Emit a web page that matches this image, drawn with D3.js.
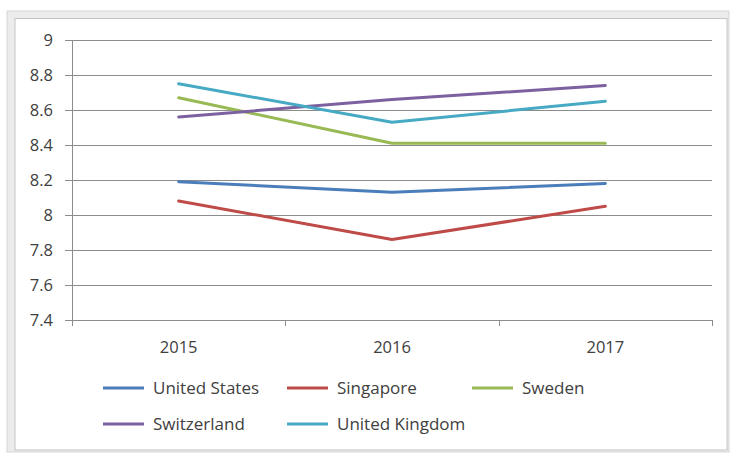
<!DOCTYPE html>
<html>
<head>
<meta charset="utf-8">
<script src="https://cdn.jsdelivr.net/npm/d3@7"></script>
<style>
  html, body { margin: 0; padding: 0; background: #fff; }
  svg text { font-family: "Open Sans", sans-serif; fill: #404040; }
</style>
</head>
<body>
<svg id="chart" width="732" height="453"></svg>
<script>
// Years on the category axis
const years = ["2015", "2016", "2017"];

// Index values per country
const unitedStates = [8.19, 8.13, 8.18];
const singapore = [8.08, 7.86, 8.05];
const sweden = [8.67, 8.41, 8.41];
const switzerland = [8.56, 8.66, 8.74];
const unitedKingdom = [8.75, 8.53, 8.65];

const seriesNames = ["United States", "Singapore", "Sweden", "Switzerland", "United Kingdom"];
const seriesValues = [unitedStates, singapore, sweden, switzerland, unitedKingdom];
const seriesColors = ["#4a7ebb", "#be4b48", "#98b954", "#7d60a0", "#46aac5"];

// Value axis ticks
const yTicks = [7.4, 7.6, 7.8, 8, 8.2, 8.4, 8.6, 8.8, 9];

const svg = d3.select("#chart");

// Embedded-object frame: light band on top/left, thin border around
svg.append("rect").attr("x", 7).attr("y", 11).attr("width", 722).attr("height", 441)
  .attr("fill", "#ececec").attr("stroke", "#d6d6d6");
svg.append("rect").attr("x", 15).attr("y", 18.5).attr("width", 712).attr("height", 431.5)
  .attr("fill", "#fff").attr("stroke", "#c4c4c4");

const plotL = 72, plotR = 712, plotT = 40, plotB = 320;

const x = d3.scaleBand().domain(years).range([plotL, plotR]);
const y = d3.scaleLinear().domain([7.4, 9]).range([plotB, plotT]);

// Horizontal gridlines extending past the axis as tick marks
const gy = svg.append("g").attr("transform", `translate(${plotR},0)`);
gy.call(d3.axisLeft(y).tickValues(yTicks).tickSize(plotR - plotL + 7).tickPadding(12).tickFormat(d => String(d)));
gy.select(".domain").remove();
gy.selectAll(".tick line").attr("stroke", "#8c8c8c").attr("stroke-width", 1);
gy.selectAll(".tick text").attr("font-size", 16.5).attr("fill", "#404040");

// Vertical value-axis line
svg.append("line").attr("x1", plotL + 0.5).attr("x2", plotL + 0.5).attr("y1", plotT).attr("y2", plotB + 6)
  .attr("stroke", "#8c8c8c");

// Category axis with ticks at band boundaries
const gx = svg.append("g").attr("transform", `translate(0,${plotB})`);
gx.append("line").attr("x1", plotL).attr("x2", plotR).attr("y1", 0.5).attr("y2", 0.5).attr("stroke", "#8c8c8c");
const bounds = years.map(d => x(d)).concat([x(years[years.length - 1]) + x.bandwidth()]);
gx.selectAll("line.bt").data(bounds).join("line").attr("class", "bt")
  .attr("x1", d => Math.round(d) + 0.5).attr("x2", d => Math.round(d) + 0.5)
  .attr("y1", 0).attr("y2", 6).attr("stroke", "#8c8c8c");
gx.selectAll("text").data(years).join("text")
  .attr("x", d => x(d) + x.bandwidth() / 2).attr("y", 33)
  .attr("text-anchor", "middle").attr("font-size", 16.5).text(d => d);

// Series lines
const line = d3.line().x((d, i) => x(years[i]) + x.bandwidth() / 2).y(d => y(d));
seriesValues.forEach((vals, i) => {
  svg.append("path").datum(vals).attr("d", line)
    .attr("fill", "none").attr("stroke", seriesColors[i]).attr("stroke-width", 3)
    .attr("stroke-linejoin", "round").attr("stroke-linecap", "round");
});

// Legend, two rows
const legendPos = [[103, 388], [287, 388], [472, 388], [103, 424], [287, 424]];
seriesNames.forEach((name, i) => {
  const [lx, ly] = legendPos[i];
  svg.append("line").attr("x1", lx).attr("x2", lx + 41).attr("y1", ly).attr("y2", ly)
    .attr("stroke", seriesColors[i]).attr("stroke-width", 3);
  svg.append("text").attr("x", lx + 50).attr("y", ly + 6).attr("font-size", 17).text(name);
});
</script>
</body>
</html>
